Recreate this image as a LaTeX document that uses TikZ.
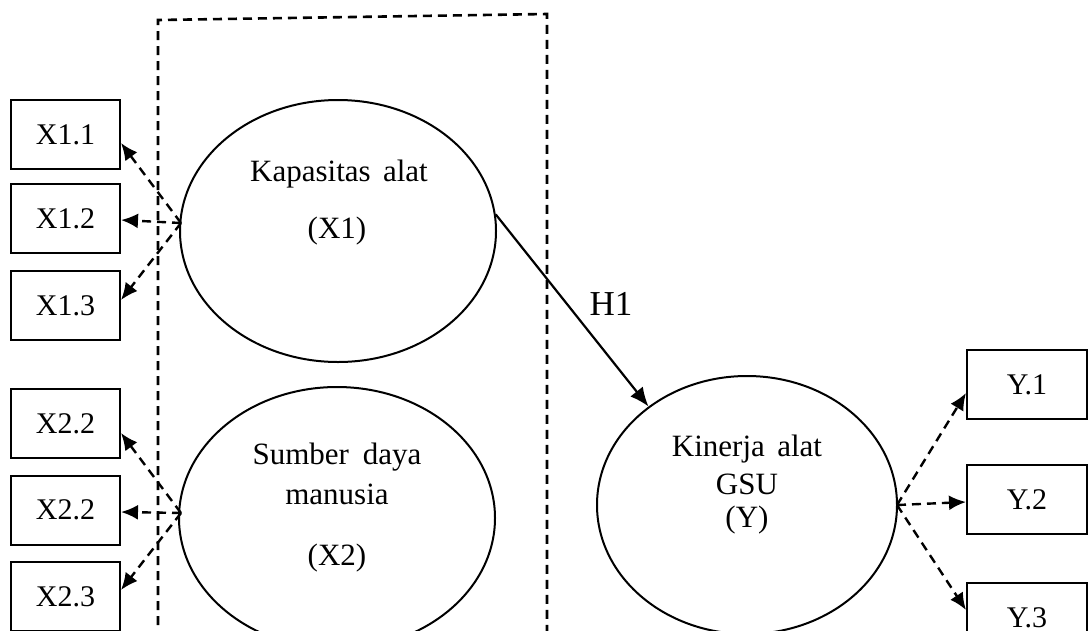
\documentclass[tikz,border=0pt]{standalone}
\usepackage{fontspec}
\setmainfont{Liberation Serif}
\usetikzlibrary{arrows.meta,shapes.geometric}
\begin{document}
\begin{tikzpicture}[x=1pt,y=-1pt,
  txt/.style={font=\fontsize{31}{34}\selectfont, inner sep=0},
  obox/.style={draw, line width=2pt, minimum width=109pt, minimum height=69pt, inner sep=0, font=\fontsize{30}{33}\selectfont},
  ybox/.style={obox, minimum width=120pt},
  latent/.style={draw, ellipse, line width=2pt, inner sep=0},
  ind/.style={line width=2.4pt, dash pattern=on 9pt off 6pt, -{Latex[length=17pt,width=15pt]}},
  frame/.style={line width=2.6pt, dash pattern=on 9pt off 6pt},
  path/.style={line width=2.2pt, -{Latex[length=19pt,width=16pt]}}
]
\clip (0,0) rectangle (1088,630);
% dashed frame
\coordinate (fbl) at (158,640);
\coordinate (ftl) at (158,20);
\coordinate (ftr) at (547,14);
\coordinate (fbr) at (547,640);
\draw[frame] (fbl) -- (ftl) -- (ftr) -- (fbr);

% latent variables
\node[latent, minimum width=316pt, minimum height=262pt] (e1) at (338,231) {};
\node[latent, minimum width=316pt, minimum height=262pt] (e2) at (337,518) {};
\node[latent, minimum width=300pt, minimum height=258pt] (e3) at (747,505) {};

\node[txt] (t1a) at (339,174) {Kapasitas\hspace{0.4em}alat};
\node[txt] (t1b) at (337,231) {(X1)};
\node[txt] (t2a) at (337,457) {Sumber\hspace{0.45em}daya};
\node[txt] (t2b) at (337,494) {manusia};
\node[txt] (t2c) at (337,558) {(X2)};
\node[txt] (t3a) at (747,449) {Kinerja\hspace{0.4em}alat};
\node[txt] (t3b) at (747,484) {GSU};
\node[txt] (t3c) at (747,520) {(Y)};

% indicators
\node[obox] (b11) at (65.5,134.5) {X1.1};
\node[obox] (b12) at (65.5,218.5) {X1.2};
\node[obox] (b13) at (65.5,305.5) {X1.3};
\node[obox] (b21) at (65.5,423.5) {X2.2};
\node[obox] (b22) at (65.5,510) {X2.2};
\node[obox] (b23) at (65.5,596.5) {X2.3};
\node[ybox] (y1) at (1027,384.5) {Y.1};
\node[ybox] (y2) at (1027,499.5) {Y.2};
\node[ybox] (y3) at (1027,617.5) {Y.3};

% meeting points on ellipses
\coordinate (m1) at (181,223);
\coordinate (m2) at (181,513);
\coordinate (m3) at (897,505);

\draw[ind] (m1) -- ([yshift=-8.5pt]b11.east);
\draw[ind] (m1) -- ([yshift=-1.5pt]b12.east);
\draw[ind] (m1) -- ([yshift=5.5pt]b13.east);
\draw[ind] (m2) -- ([yshift=-9.5pt]b21.east);
\draw[ind] (m2) -- ([yshift=-2pt]b22.east);
\draw[ind] (m2) -- ([yshift=6.5pt]b23.east);
\draw[ind] (m3) -- ([yshift=-8.5pt]y1.west);
\draw[ind] (m3) -- ([yshift=-2.5pt]y2.west);
\draw[ind] (m3) -- ([yshift=7.5pt]y3.west);

% structural path
\draw[path] (e1.6) -- (e3.135);
\node[font=\fontsize{35}{38}\selectfont, inner sep=0] (h1) at (611,304) {H1};
\end{tikzpicture}
\end{document}
